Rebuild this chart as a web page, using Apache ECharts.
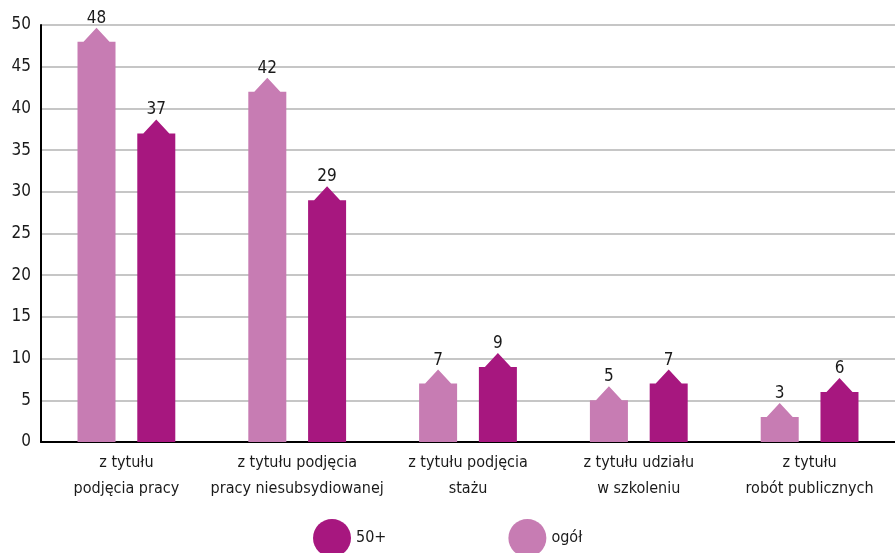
<!DOCTYPE html>
<html><head><meta charset="utf-8">
<script src="https://cdn.jsdelivr.net/npm/echarts@6/dist/echarts.min.js"></script>
<style>html,body{margin:0;padding:0;background:#fff}#c{width:895px;height:553px}</style>
</head><body><div id="c"></div>
<script>
var categories = ['z tytułu\npodjęcia pracy','z tytułu podjęcia\npracy niesubsydiowanej','z tytułu podjęcia\nstażu','z tytułu udziału\nw szkoleniu','z tytułu\nrobót publicznych'];
var ogolValues = [48, 42, 7, 5, 3];
var plusValues = [37, 29, 9, 7, 6];
var yTicks = [0,5,10,15,20,25,30,35,40,45,50];

var FONT = "'DejaVu Sans Condensed',sans-serif";
var chart = echarts.init(document.getElementById('c'));

function makeRender(offsetFrac, color){
  return function(params, api){
    var x = api.value(0), v = api.value(1);
    var top = api.coord([x, v]);
    var base = api.coord([x, 0]);
    var cw = api.size([1,0])[0];
    var cx = top[0] + offsetFrac*cw;
    var hw = 19, th = 14, tw = 13;
    var pts = [[cx-hw, base[1]],[cx-hw, top[1]],[cx-tw, top[1]],[cx, top[1]-th],[cx+tw, top[1]],[cx+hw, top[1]],[cx+hw, base[1]]];
    return {type:'group', children:[
      {type:'polygon', shape:{points:pts}, style:{fill:color}},
      {type:'text', style:{text:String(v), x:cx, y:top[1]-th-1, textAlign:'center', textVerticalAlign:'bottom', fill:'#1a1a1a', font:'17px '+FONT}}
    ]};
  };
}

var ogolData = ogolValues.map(function(v,i){return [i,v];});
var plusData = plusValues.map(function(v,i){return [i,v];});

chart.setOption({
  animation:false,
  grid:{left:41, right:0, top:25, bottom:111, containLabel:false},
  legend:{
    data:[{name:'50+', icon:'circle'},{name:'ogół', icon:'circle'}],
    left:308, top:514, itemWidth:38, itemHeight:38, itemGap:122,
    textStyle:{fontFamily:FONT, fontSize:16, color:'#1a1a1a'}
  },
  xAxis:{type:'category', data:categories,
    axisLine:{lineStyle:{color:'#000', width:2}}, axisTick:{show:false},
    axisLabel:{fontFamily:FONT, fontSize:16, color:'#1a1a1a', lineHeight:26, margin:8, interval:0}},
  yAxis:{type:'value', min:0, max:50, interval:5,
    axisLine:{show:true, lineStyle:{color:'#000', width:2}}, axisTick:{show:false},
    splitLine:{lineStyle:{color:'#b3b3b3', width:1.5}},
    axisLabel:{fontFamily:FONT, fontSize:17, color:'#1a1a1a', margin:10,
      formatter:function(v){return yTicks.indexOf(v)>=0?String(v):'';}}},
  series:[
    {name:'ogół', type:'custom', renderItem:makeRender(-0.175,'#c77cb3'), itemStyle:{color:'#c77cb3'}, encode:{x:0,y:1}, data:ogolData, z:3},
    {name:'50+', type:'custom', renderItem:makeRender(0.175,'#a7177f'), itemStyle:{color:'#a7177f'}, encode:{x:0,y:1}, data:plusData, z:3}
  ]
});
</script></body></html>
